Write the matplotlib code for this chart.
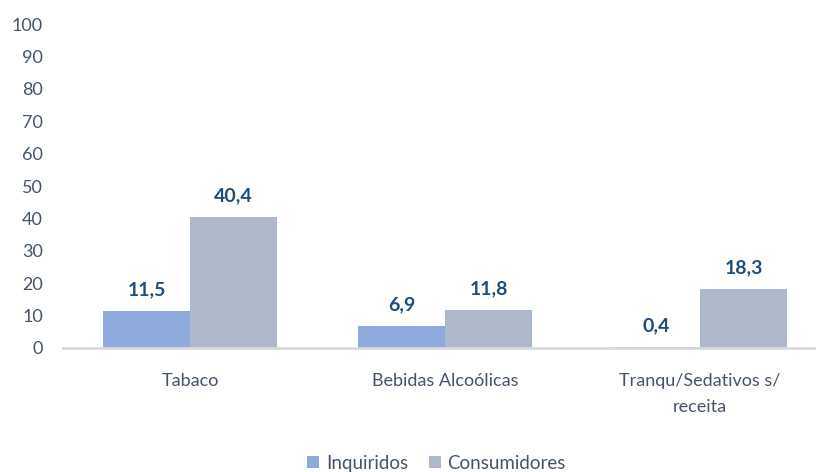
import numpy as np
import matplotlib.pyplot as plt

categories = ['Tabaco', 'Bebidas Alcoólicas', 'Tranqu/Sedativos s/\nreceita']
inquiridos = [11.5, 6.9, 0.4]
consumidores = [40.4, 11.8, 18.3]
series_names = ['Inquiridos', 'Consumidores']

plt.rcParams['font.family'] = ['Lato', 'DejaVu Sans']

fig = plt.figure(figsize=(8.16, 4.72), dpi=100)
ax = fig.add_axes([62.5 / 816, 1 - 348 / 472, 765 / 816, 324 / 472])

x = np.arange(len(categories))
w = 0.341
b1 = ax.bar(x - w / 2, inquiridos, w, color='#8FAADC', label=series_names[0])
b2 = ax.bar(x + w / 2, consumidores, w, color='#ADB9CA', label=series_names[1])

for bars, vals in [(b1, inquiridos), (b2, consumidores)]:
    for bar, v in zip(bars, vals):
        ax.annotate(f'{v:.1f}'.replace('.', ','),
                    (bar.get_x() + bar.get_width() / 2, v),
                    xytext=(0, 9), textcoords='offset points',
                    ha='center', va='bottom', fontsize=14,
                    fontweight='bold', color='#1F4E79')

ax.set_xlim(-0.5, 2.5)
ax.set_ylim(0, 100)
ax.set_yticks(range(0, 101, 10))
ax.set_xticks(x)
ax.set_xticklabels(categories, linespacing=1.75)
ax.tick_params(axis='both', length=0, labelsize=13, labelcolor='#44546A')
ax.tick_params(axis='y', pad=14)
ax.tick_params(axis='x', pad=18)
for s in ['top', 'right', 'left']:
    ax.spines[s].set_visible(False)
ax.spines['bottom'].set_color('#D9D9D9')
ax.spines['bottom'].set_linewidth(2)

leg = fig.legend(loc='lower center', bbox_to_anchor=(0.535, -0.035), ncol=2,
                 frameon=False, fontsize=13.5, handlelength=0.65,
                 handleheight=0.65, handletextpad=0.35, columnspacing=1.1)
for t in leg.get_texts():
    t.set_color('#44546A')

fig.savefig('out.png', dpi=100)
